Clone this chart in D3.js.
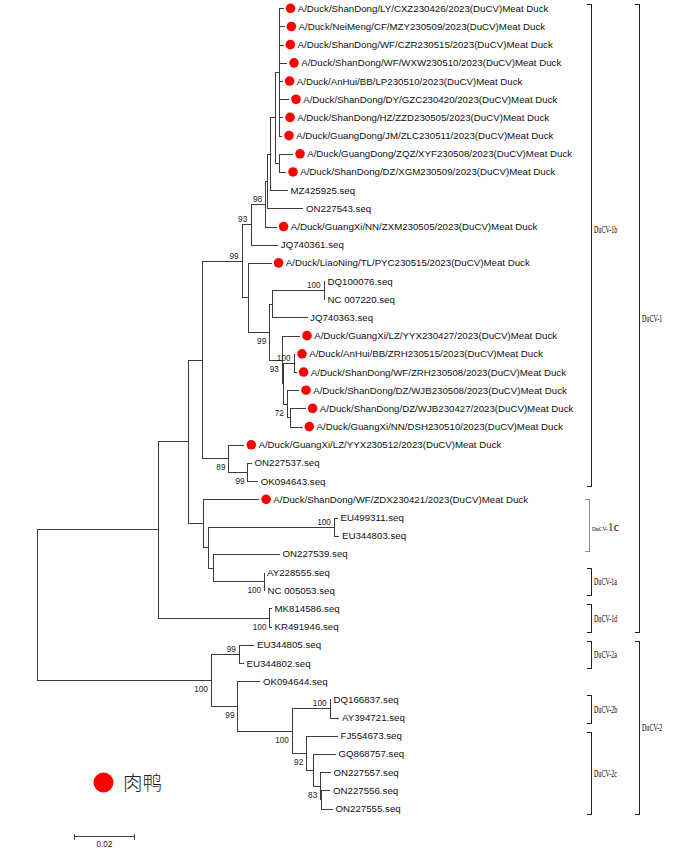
<!DOCTYPE html>
<html><head><meta charset="utf-8">
<script src="https://cdn.jsdelivr.net/npm/d3@7"></script>
<style>
html,body{margin:0;padding:0;background:#fff;}
svg{display:block;}
</style></head>
<body>
<svg id="chart" width="686" height="852"></svg>
<script>
// ---------- DATA ----------
const leafNames = [
"A/Duck/ShanDong/LY/CXZ230426/2023(DuCV)Meat Duck",
"A/Duck/NeiMeng/CF/MZY230509/2023(DuCV)Meat Duck",
"A/Duck/ShanDong/WF/CZR230515/2023(DuCV)Meat Duck",
"A/Duck/ShanDong/WF/WXW230510/2023(DuCV)Meat Duck",
"A/Duck/AnHui/BB/LP230510/2023(DuCV)Meat Duck",
"A/Duck/ShanDong/DY/GZC230420/2023(DuCV)Meat Duck",
"A/Duck/ShanDong/HZ/ZZD230505/2023(DuCV)Meat Duck",
"A/Duck/GuangDong/JM/ZLC230511/2023(DuCV)Meat Duck",
"A/Duck/GuangDong/ZQZ/XYF230508/2023(DuCV)Meat Duck",
"A/Duck/ShanDong/DZ/XGM230509/2023(DuCV)Meat Duck",
"MZ425925.seq",
"ON227543.seq",
"A/Duck/GuangXi/NN/ZXM230505/2023(DuCV)Meat Duck",
"JQ740361.seq",
"A/Duck/LiaoNing/TL/PYC230515/2023(DuCV)Meat Duck",
"DQ100076.seq",
"NC 007220.seq",
"JQ740363.seq",
"A/Duck/GuangXi/LZ/YYX230427/2023(DuCV)Meat Duck",
"A/Duck/AnHui/BB/ZRH230515/2023(DuCV)Meat Duck",
"A/Duck/ShanDong/WF/ZRH230508/2023(DuCV)Meat Duck",
"A/Duck/ShanDong/DZ/WJB230508/2023(DuCV)Meat Duck",
"A/Duck/ShanDong/DZ/WJB230427/2023(DuCV)Meat Duck",
"A/Duck/GuangXi/NN/DSH230510/2023(DuCV)Meat Duck",
"A/Duck/GuangXi/LZ/YYX230512/2023(DuCV)Meat Duck",
"ON227537.seq",
"OK094643.seq",
"A/Duck/ShanDong/WF/ZDX230421/2023(DuCV)Meat Duck",
"EU499311.seq","EU344803.seq","ON227539.seq","AY228555.seq","NC 005053.seq",
"MK814586.seq","KR491946.seq","EU344805.seq","EU344802.seq","OK094644.seq",
"DQ166837.seq","AY394721.seq","FJ554673.seq","GQ868757.seq",
"ON227557.seq","ON227556.seq","ON227555.seq"];

const meatDuck = [1,1,1,1,1,1,1,1,1,1,0,0,1,0,1,0,0,0,1,1,1,1,1,1,1,0,0,1,
                  0,0,0,0,0,0,0,0,0,0,0,0,0,0,0,0,0];

const leafParents = ["s","s","s","s","s","s","s","s","q","q","r","t","u","v","x",
  "z","z","y1","k","zrh","zrh","m","n72","n72","n89","n99","n99","ca",
  "eu","eu","ca3","ay","ay","d1","d1","a2","a2","b99","dq","dq","f92","f2","o83","o2","o2"];

const leafLengths = [0.00170,0.00197,0.00164,0.00285,0.00141,0.00351,0.00154,0.00121,
  0.00456,0.00226,0.00590,0.01187,0.00370,0.00905,0.00770,0.00033,0.00033,0.01174,
  0.00607,0.00039,0.00092,0.00410,0.00518,0.00410,0.00531,0.00154,0.00361,0.01836,
  0.00121,0.00170,0.02207,0.00016,0.00033,0.00089,0.00089,0.00498,0.00154,0.00761,
  0.00033,0.00311,0.01049,0.00764,0.00361,0.00311,0.00393];

const nodeIds     = ["root","DuCV1","DuCV2","g1","d1","b1","ca","w","n89","v","x","u","t","r","p","s","q",
                     "y","y1","z","k","l","zrh","m","n72","n99","ca2","eu","ca3","ay",
                     "a2","b99","c100","dq","f92","f2","o83","o2"];
const nodeParents = ["","root","root","DuCV1","DuCV1","g1","g1","b1","b1","w","w","v","u","t","r","p","p",
                     "x","y","y1","y","k","l","l","m","n89","ca","ca2","ca2","ca3",
                     "DuCV2","DuCV2","b99","c100","c100","f92","f2","o83"];
const nodeLengths = [0,0.03993,0.05711,0.00984,0.03639,0.00459,0.00492,0.01302,0.00852,0.00285,0.00207,
                     0.00485,0.00059,0.00089,0.00164,0.00115,0.00141,
                     0.00679,0.00089,0.01715,0.00416,0.00026,0.00377,0.00138,0.00108,0.00623,
                     0.00164,0.04131,0.00144,0.01682,
                     0.00938,0.00872,0.01784,0.01256,0.00469,0.00220,0.00239,0.00033];
const nodeSupport = [null,null,100,null,100,null,null,99,89,93,null,98,null,null,null,null,null,
                     99,null,100,93,null,100,72,null,99,null,100,null,100,
                     99,99,100,100,92,null,83,null];
// where the bootstrap value sits relative to its branch: a = above, b = below
const supportSide = ["","","b","","b","","","a","b","a","","a","","","","","",
                     "b","","a","b","","a","b","","b","","a","","b",
                     "a","b","b","a","b","","b",""];

const cladeNames = ["DuCV-1b","DuCV-1c","DuCV-1a","DuCV-1d","DuCV-2a","DuCV-2b","DuCV-2c","DuCV-1","DuCV-2"];
const cladeFirst = [0,27,31,33,35,38,40,0,35];
const cladeLast  = [26,30,32,34,36,39,44,34,44];
const cladeLevel = [1,1,1,1,1,1,1,2,2];

const legendLabel = "肉鸭";
const scaleBarValue = 0.02;

// ---------- LAYOUT ----------
const svg = d3.select("#chart");
const x = d3.scaleLinear().domain([0, scaleBarValue]).range([36.5, 36.5 + 61]);
const y = d3.scaleLinear().domain([0, leafNames.length - 1]).range([8.3, 808.5]);

const table = nodeIds.map((id,i)=>({id, parentId: nodeParents[i] || null, len: nodeLengths[i],
                   support: nodeSupport[i], side: supportSide[i], leaf:false}))
  .concat(leafNames.map((n,i)=>({id:"L"+i, parentId: leafParents[i], len: leafLengths[i],
                   name:n, meat: meatDuck[i]===1, idx:i, leaf:true})));
const root = d3.stratify().id(d=>d.id).parentId(d=>d.parentId)(table);

root.eachBefore(n=>{ n.dist = (n.parent ? n.parent.dist : 0) + n.data.len; n.px = x(n.dist); });
root.eachAfter(n=>{
  if (n.data.leaf) n.py = y(n.data.idx);
  else { const ys = n.children.map(c=>c.py); n.ymin = d3.min(ys); n.ymax = d3.max(ys); n.py = (n.ymin+n.ymax)/2; }
});

const lineCol = "#3c3c3c";
const g = svg.append("g").attr("stroke", lineCol).attr("stroke-width", 1).attr("fill","none")
  .attr("shape-rendering","crispEdges");
// horizontal branches
root.descendants().filter(n=>n.parent).forEach(n=>{
  g.append("line").attr("x1", n.parent.px).attr("x2", n.px).attr("y1", Math.round(n.py)+0.5).attr("y2", Math.round(n.py)+0.5);
});
// vertical connectors
root.descendants().filter(n=>n.children).forEach(n=>{
  g.append("line").attr("x1", Math.round(n.px)+0.5).attr("x2", Math.round(n.px)+0.5)
    .attr("y1", Math.round(n.ymin)+0.5).attr("y2", Math.round(n.ymax)+0.5);
});

// leaves
const leafFont = "'Liberation Sans', Arial, sans-serif";
root.leaves().forEach(n=>{
  let tx = n.px + 2.5;
  if (n.data.meat) {
    svg.append("circle").attr("cx", n.px + 6.8).attr("cy", n.py).attr("r", 4.8).attr("fill", "#ff0000");
    tx = n.px + 14;
  }
  svg.append("text").attr("x", tx).attr("y", n.py).attr("dy","0.36em")
    .attr("font-family", leafFont).attr("font-size", 9.7).attr("fill","#111").text(n.data.name);
});

// bootstrap values
root.descendants().filter(n=>n.data.support!=null).forEach(n=>{
  const above = n.data.side === "a";
  svg.append("text").attr("x", n.px - (above?3.5:2.8)).attr("y", n.py + (above? -2 : 12))
    .attr("text-anchor","end").attr("font-family", leafFont).attr("font-size", 8.2).attr("fill","#222")
    .text(n.data.support);
});

// clade brackets
const bx = {1: 591.5, 2: 639.5};
const labelShift = {"DuCV-1b": -16};
cladeNames.forEach((name,i)=>{
  const special = name === "DuCV-1c";
  const y0 = Math.round(y(cladeFirst[i]) - (special ? 0 : 4)) + 0.5;
  const y1 = Math.round(y(cladeLast[i]) + (special ? -3 : 5)) + 0.5;
  const xx = bx[cladeLevel[i]] - (special ? 2 : 0);
  const col = special ? "#8a8a8a" : "#222";
  const path = d3.path();
  path.moveTo(xx-4.5, y0); path.lineTo(xx, y0); path.lineTo(xx, y1); path.lineTo(xx-4.5, y1);
  svg.append("path").attr("d", path.toString()).attr("fill","none").attr("stroke", col).attr("stroke-width",1)
    .attr("shape-rendering","crispEdges");
  const ym = (y0+y1)/2 + (labelShift[name]||0);
  const t = svg.append("text").attr("x", xx + 2.5).attr("y", ym).attr("dy","0.35em")
    .attr("font-family","'Liberation Serif', 'Times New Roman', serif").attr("fill","#000");
  if (special) {
    t.append("tspan").attr("font-size", 5.5).text("DuCV-");
    t.append("tspan").attr("font-size", 12).attr("fill","#7a1010").text("1");
    t.append("tspan").attr("font-size", 12).text("c");
  } else {
    t.attr("font-size", 9.6).text(name);
    const w = t.node().getComputedTextLength();
    t.attr("textLength", w*0.63).attr("lengthAdjust","spacingAndGlyphs");
  }
});

// legend
svg.append("circle").attr("cx", 103.5).attr("cy", 782.5).attr("r", 10).attr("fill","#ff0000");
svg.append("text").attr("x", 123).attr("y", 782.5).attr("dy","0.36em")
  .attr("font-family","'Noto Sans CJK SC', sans-serif").attr("font-weight",300)
  .attr("font-size", 19.5).attr("fill","#222").text(legendLabel);

// scale bar
const sb0 = 74, sb1 = sb0 + (x(scaleBarValue) - x(0)), sby = 836.5;
const sbg = svg.append("g").attr("stroke","#444").attr("stroke-width",1).attr("shape-rendering","crispEdges");
sbg.append("line").attr("x1",sb0).attr("x2",sb1).attr("y1",sby).attr("y2",sby);
sbg.append("line").attr("x1",sb0+0.5).attr("x2",sb0+0.5).attr("y1",sby-3).attr("y2",sby+3);
sbg.append("line").attr("x1",sb1-0.5).attr("x2",sb1-0.5).attr("y1",sby-3).attr("y2",sby+3);
svg.append("text").attr("x",(sb0+sb1)/2).attr("y",847).attr("text-anchor","middle")
  .attr("font-family",leafFont).attr("font-size",8.2).attr("fill","#222").text(scaleBarValue);
</script>
</body></html>
